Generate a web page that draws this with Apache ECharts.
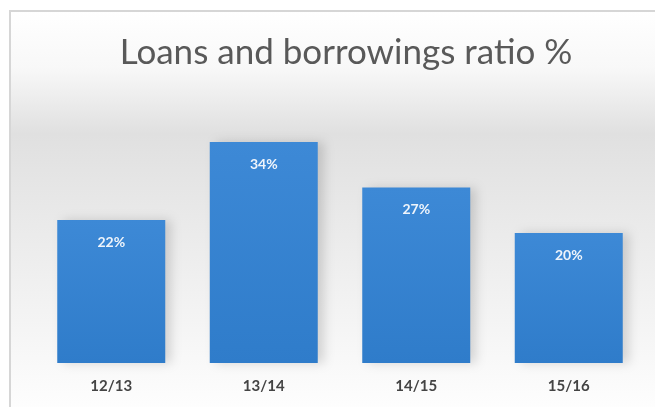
<!DOCTYPE html>
<html>
<head>
<meta charset="utf-8">
<script src="https://cdn.jsdelivr.net/npm/echarts@6/dist/echarts.min.js"></script>
<style>
  html, body { margin: 0; padding: 0; background: #fff; }
  #chart { width: 655px; height: 407px; }
</style>
</head>
<body>
<div id="chart"></div>
<script>
const titleText = 'Loans and borrowings ratio %'
const years = ['12/13', '13/14', '14/15', '15/16']
const ratios = [22, 34, 27, 20]

const chart = echarts.init(document.getElementById('chart'))

chart.setOption({
    animation: false,
    graphic: [{
        type: 'rect',
        z: -10,
        shape: { x: 10, y: 11, width: 660, height: 410 },
        style: {
            fill: new echarts.graphic.LinearGradient(0, 0, 0, 1, [
                { offset: 0, color: '#ffffff' },
                { offset: 0.14, color: '#f8f8f8' },
                { offset: 0.3, color: '#e0e0e0' },
                { offset: 0.5, color: '#e9e9e9' },
                { offset: 0.8, color: '#f6f6f6' },
                { offset: 1, color: '#ffffff' }
            ]),
            stroke: '#d6d6d6',
            lineWidth: 2
        }
    }],
    title: {
        text: titleText,
        left: 341,
        textAlign: 'center',
        top: 30,
        textStyle: {
            fontFamily: 'Lato',
            fontSize: 35,
            fontWeight: 'normal',
            color: '#595959'
        }
    },
    grid: { left: 35, right: 10, top: 103, bottom: 44 },
    xAxis: {
        type: 'category',
        data: years,
        axisLine: { show: false },
        axisTick: { show: false },
        axisLabel: {
            margin: 16,
            fontFamily: 'Lato',
            fontSize: 15,
            fontWeight: 'bold',
            color: '#444444'
        }
    },
    yAxis: {
        type: 'value',
        min: 0,
        max: 40,
        show: false
    },
    series: [{
        type: 'bar',
        data: ratios,
        barWidth: 108,
        itemStyle: {
            color: new echarts.graphic.LinearGradient(0, 0, 0, 1, [
                { offset: 0, color: '#3d89d6' },
                { offset: 1, color: '#2f7cca' }
            ]),
            shadowColor: 'rgba(0,0,0,0.15)',
            shadowBlur: 10,
            shadowOffsetX: 6
        },
        label: {
            show: true,
            position: 'insideTop',
            distance: 15,
            formatter: '{c}%',
            fontFamily: 'Lato',
            fontSize: 14,
            fontWeight: 'bold',
            color: '#eef4fb'
        }
    }]
})
</script>
</body>
</html>
